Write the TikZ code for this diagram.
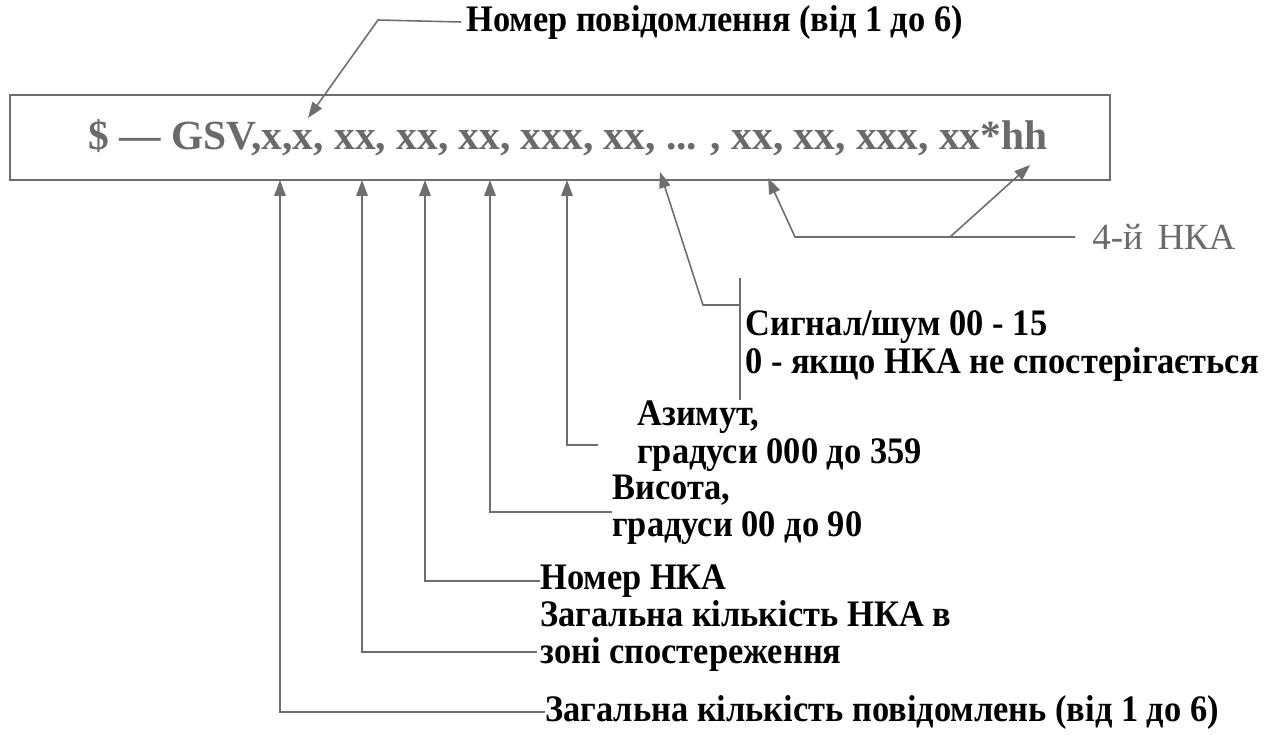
\documentclass[tikz,border=0pt]{standalone}
\usepackage{fontspec}
\setmainfont{Liberation Serif}
\newfontfamily\condserif[FakeStretch=0.92]{Liberation Serif}
\usetikzlibrary{arrows.meta}
\definecolor{ln}{HTML}{6E6E6E}
\definecolor{tx}{HTML}{6A6A6A}
\begin{document}
\begin{tikzpicture}[x=0.02cm,y=-0.02cm,
  conn/.style={draw=ln, line width=0.9pt},
  arr/.style={conn, -{Triangle[length=9pt,width=6.5pt]}},
  lab/.style={font=\condserif\fontsize{21.3}{21.3}\selectfont\bfseries, inner sep=0pt, align=left, text=black, anchor=west},
  msgbox/.style={draw=ln, line width=1pt, minimum width=22cm, minimum height=1.7cm, inner sep=0pt,
    font=\fontsize{23.6}{26}\selectfont\bfseries, text=tx},
  grey/.style={font=\fontsize{21}{22}\selectfont, inner sep=0pt, text=tx, anchor=west}
]
\useasboundingbox (0,0) rectangle (1283,734);

% message box
\node[msgbox] (box) at (560,137.5) {\hspace*{0.32cm}\$ — GSV,x,x, xx, xx, xx, xxx, xx, ... , xx, xx, xxx, xx*hh};

% arrow tips on the box
\coordinate (t0) at (308,118);
\coordinate (t1) at (280,180);
\coordinate (t2) at (362,180);
\coordinate (t3) at (425,180);
\coordinate (t4) at (490,180);
\coordinate (t5) at (567,180);
\coordinate (t6) at (660,172);
\coordinate (t7) at (768,178);
\coordinate (t8) at (1030,165);

% labels
\node[lab] (ltop) at (466,22) {Номер повідомлення (від 1 до 6)};
\node[lab] (l1) at (545,712) {Загальна кількість повідомлень (від 1 до 6)};
\node[lab] (l2) at (540,636) {Загальна кількість НКА в\\зоні спостереження};
\node[lab] (l3) at (540,581) {Номер НКА};
\node[lab] (l4) at (612,510) {Висота,\\градуси 00 до 90};
\node[lab] (l5) at (637,436) {Азимут,\\ градуси 000 до 359};
\node[lab] (l6) at (745,346) {Сигнал/шум 00 - 15\\0 - якщо НКА не спостерігається};
\node[grey] (l7) at (1092,237) {4-й\hspace{0.4em}НКА};

% helper coordinates
\coordinate (b0) at (378,20);
\coordinate (c2) at (537,652);
\coordinate (c4) at (612,512);
\coordinate (c5) at (598,445);
\coordinate (c6a) at (703,305);
\coordinate (c6b) at (740,305);
\coordinate (c6top) at (740,278);
\coordinate (c6bot) at (740,400);
\coordinate (c7a) at (795,237);
\coordinate (c7b) at (1075,237);
\coordinate (c8) at (950,237);

% connectors
\draw[arr] ([xshift=-0.1cm]ltop.west) -- (b0) -- (t0);
\draw[arr] (l1.west) -| (t1);
\draw[arr] (c2) -| (t2);
\draw[arr] (l3.west) -| (t3);
\draw[arr] (c4) -| (t4);
\draw[arr] (c5) -| (t5);
\draw[conn] (c6top) -- (c6bot);
\draw[arr] (c6b) -- (c6a) -- (t6);
\draw[arr] (c7b) -- (c7a) -- (t7);
\draw[arr] (c8) -- (t8);
\end{tikzpicture}
\end{document}
